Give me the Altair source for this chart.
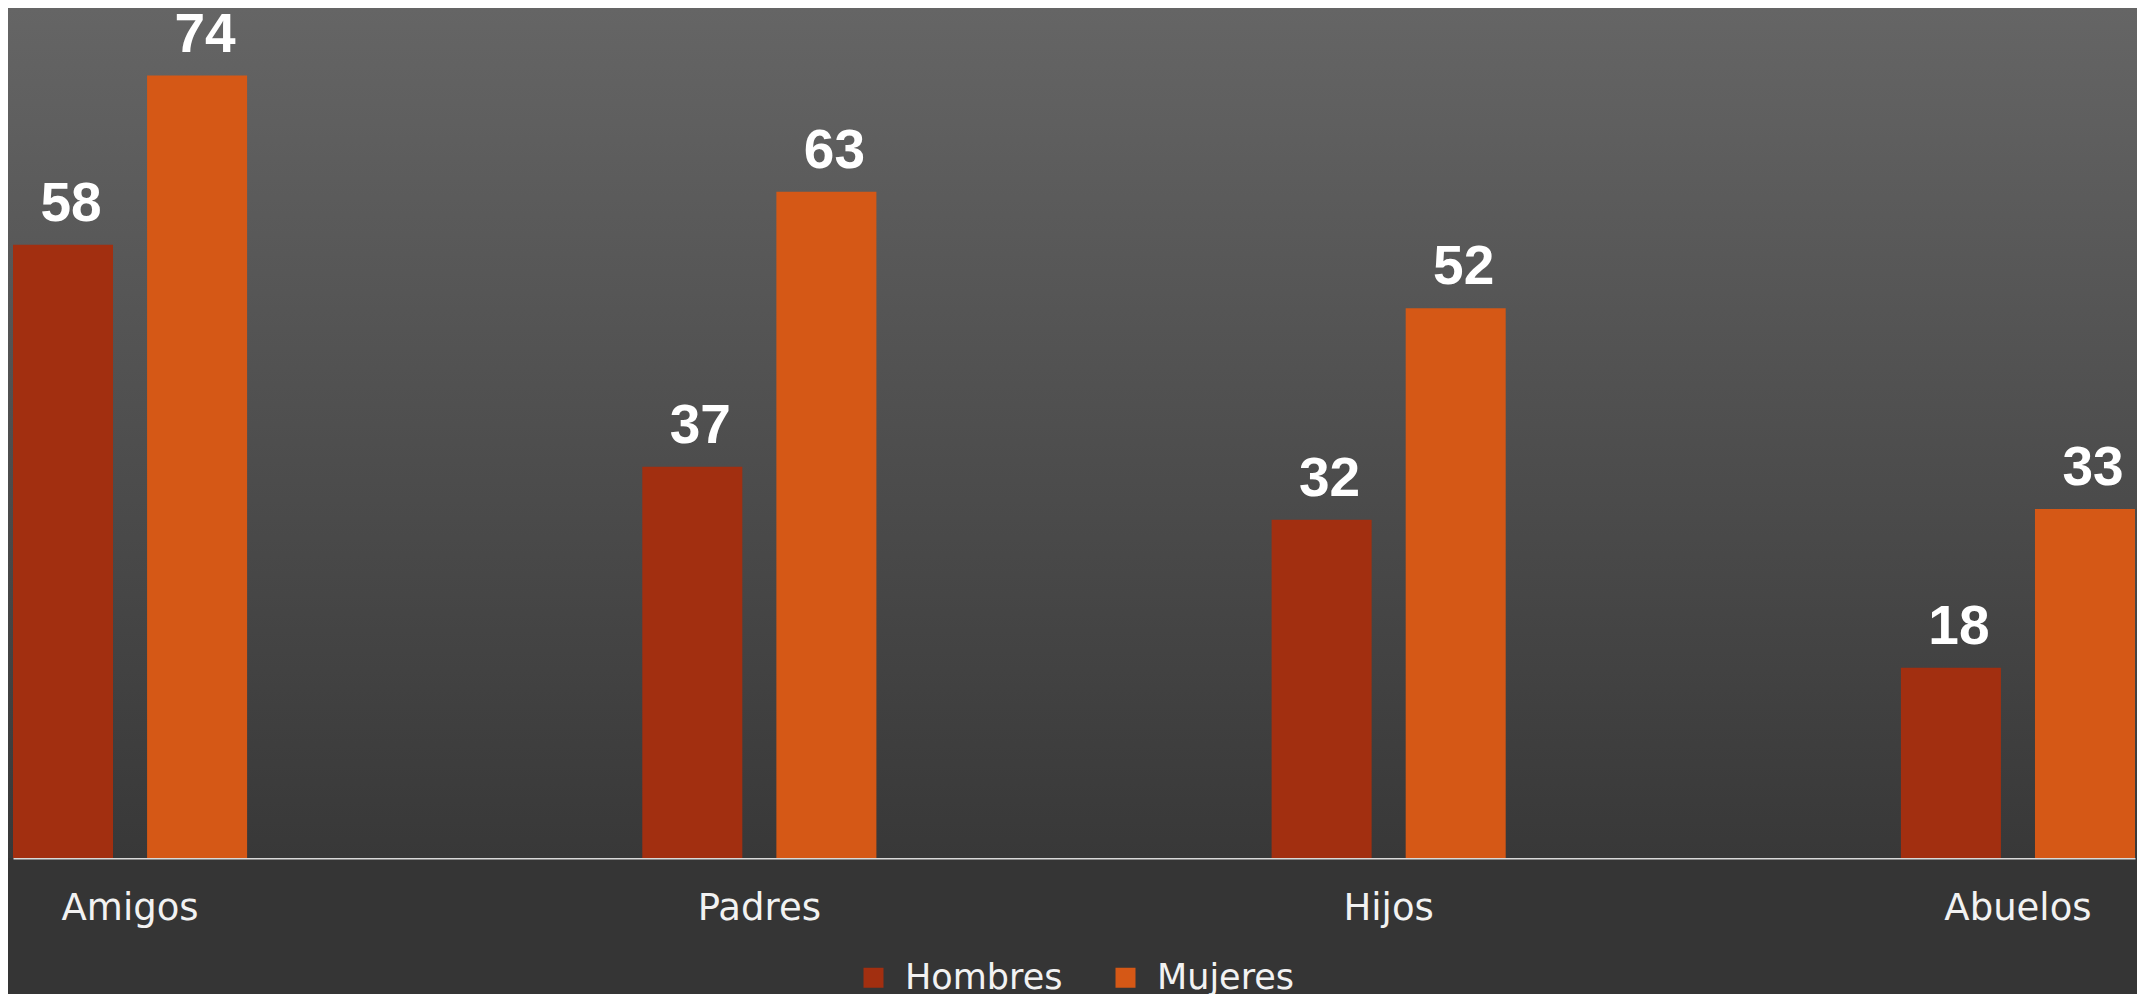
import altair as alt
import pandas as pd

categories = ["Amigos", "Padres", "Hijos", "Abuelos"]
series = ["Hombres", "Mujeres"]
hombres = [58, 37, 32, 18]
mujeres = [74, 63, 52, 33]
colors = ["#A22F10", "#D55816"]

rows = []
for c, h, m in zip(categories, hombres, mujeres):
    rows.append({"cat": c, "serie": "Hombres", "val": h})
    rows.append({"cat": c, "serie": "Mujeres", "val": m})
df = pd.DataFrame(rows)

W, H = 2122, 848

bg = alt.Chart(pd.DataFrame({"a": [0]})).mark_rect(
    color=alt.LinearGradient(
        gradient="linear",
        stops=[alt.GradientStop(color="#656565", offset=0),
               alt.GradientStop(color="#383838", offset=1)],
        x1=0, x2=0, y1=0, y2=1,
    )
).encode(x=alt.value(-5), x2=alt.value(W + 2), y=alt.value(-2), y2=alt.value(H))

x_enc = alt.X(
    "cat:N", sort=categories,
    scale=alt.Scale(paddingInner=0.628, paddingOuter=0),
    axis=alt.Axis(title=None, labelAngle=0, ticks=False, tickSize=0,
                  labelFontSize=37, labelFont="DejaVu Sans", labelColor="#f2f2f2",
                  labelBaseline="alphabetic", labelPadding=61,
                  domainColor="#d9d9d9", domainWidth=2, grid=False),
)
xo_enc = alt.XOffset("serie:N", sort=series,
                     scale=alt.Scale(paddingInner=0.254, paddingOuter=0))
y_enc = alt.Y("val:Q", scale=alt.Scale(domain=[0, 80.2], nice=False, zero=True), axis=None)

bars = alt.Chart(df).mark_bar().encode(
    x=x_enc, xOffset=xo_enc, y=y_enc,
    color=alt.Color(
        "serie:N", sort=series,
        scale=alt.Scale(domain=series, range=colors),
        legend=alt.Legend(
            title=None, orient="none", legendX=843, legendY=950,
            direction="horizontal", symbolType="square", symbolSize=400,
            symbolStrokeWidth=0, labelFontSize=35, labelFont="DejaVu Sans",
            labelColor="#f2f2f2", labelOffset=14, columnPadding=45, padding=0,
        ),
    ),
)

labels = alt.Chart(df).mark_text(
    font="Liberation Sans", fontWeight="bold", fontSize=55, color="white",
    baseline="alphabetic", align="center", dx=8, dy=-24,
).encode(x=x_enc, xOffset=xo_enc, y=y_enc, text="val:Q")

chart = alt.layer(bg, bars, labels).properties(
    width=W, height=H,
    autosize=alt.AutoSizeParams(type="none"),
    padding={"left": 5, "top": 2, "right": 2, "bottom": 136},
    background="#353535",
).configure_view(stroke=None)

chart.save("out.html", embed_options={"renderer": "svg", "actions": False})
